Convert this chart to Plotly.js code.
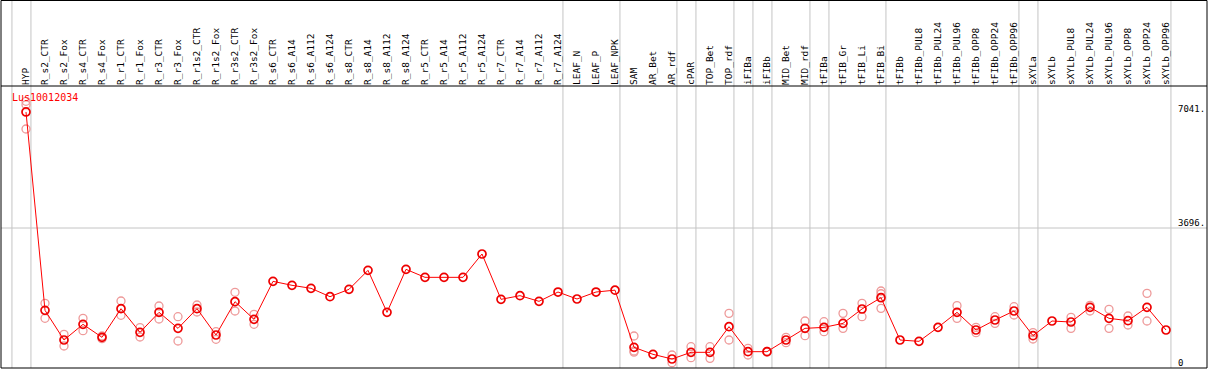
<!DOCTYPE html>
<html>
<head>
<meta charset="utf-8">
<script src="https://cdn.plot.ly/plotly-3.0.1.min.js"></script>
<style>html,body{margin:0;padding:0;background:#fff;}#chart{width:1209px;height:370px;}</style>
</head>
<body>
<div id="chart"></div>
<script>
var geneName = "Lus10012034";
var categories = ["HYP","R_s2_CTR","R_s2_Fox","R_s4_CTR","R_s4_Fox","R_r1_CTR","R_r1_Fox","R_r3_CTR","R_r3_Fox","R_r1s2_CTR","R_r1s2_Fox","R_r3s2_CTR","R_r3s2_Fox","R_s6_CTR","R_s6_A14","R_s6_A112","R_s6_A124","R_s8_CTR","R_s8_A14","R_s8_A112","R_s8_A124","R_r5_CTR","R_r5_A14","R_r5_A112","R_r5_A124","R_r7_CTR","R_r7_A14","R_r7_A112","R_r7_A124","LEAF_N","LEAF_P","LEAF_NPK","SAM","AR_Bet","AR_rdf","cPAR","TOP_Bet","TOP_rdf","iFIBa","iFIBb","MID_Bet","MID_rdf","tFIBa","tFIB_Gr","tFIB_Li","tFIB_Bi","tFIBb","tFIBb_PUL8","tFIBb_PUL24","tFIBb_PUL96","tFIBb_OPP8","tFIBb_OPP24","tFIBb_OPP96","sXYLa","sXYLb","sXYLb_PUL8","sXYLb_PUL24","sXYLb_PUL96","sXYLb_OPP8","sXYLb_OPP24","sXYLb_OPP96"];
var meanValues = [6760,1523,739,1153,810,1566,942,1470,1047,1566,871,1751,1285,2288,2183,2104,1883,2077,2579,1470,2605,2394,2394,2394,3010,1813,1910,1760,2006,1822,2006,2055,546,361,238,414,414,1091,431,431,739,1047,1073,1179,1558,1856,739,704,1073,1470,1003,1267,1505,854,1241,1214,1602,1311,1250,1602,1003];
var replicateValues = [[7041,6950,6310],[1708,1312],[889,581],[1312,985],[845,775],[1769,1391],[1065,818],[1637,1294],[1355,713],[1663,1478],[959,757],[1998,1505],[1417,1153],[],[],[],[],[],[],[],[],[],[],[],[],[],[],[],[],[],[],[],[845,449,420],[],[343,141],[563,273],[563,255],[1443,739],[519,343],[440,420],[810,669],[1241,854],[1223,959],[1443,1047],[1707,1355],[2033,1960,1575],[],[],[],[1646,1311],[1073,933],[1355,1179],[1619,1399],[933,766],[],[1338,1047],[1655,1505],[1549,1047],[1373,1135],[1971,1241],[]];
var groupEnds = ["_start","HYP","R_r7_A124","LEAF_NPK","AR_rdf","cPAR","TOP_rdf","iFIBa","iFIBb","MID_rdf","tFIBa","tFIB_Bi","tFIBb_OPP96","sXYLa","sXYLb_OPP96"];
var axisMax = 7041;
var axisMid = 3696.5;

var idx = categories.map(function(c,i){return i;});
var repX = [], repY = [];
replicateValues.forEach(function(arr,i){arr.forEach(function(v){repX.push(i);repY.push(v);});});

var xmin = -1.316, xmax = 62.158;
var plotTopPx = 86, plotBotPx = 368, figH = 370;
var plotH = plotBotPx - plotTopPx;
function pxToPaperY(p){return (plotBotPx - p)/plotH;}
var ymaxRange = axisMid * plotH / 140;

var shapes = [];
groupEnds.forEach(function(name){
  var i = name === "_start" ? -1 : categories.indexOf(name);
  var xp = (i + 0.26 - xmin)/(xmax - xmin);
  shapes.push({type:'line', xref:'paper', yref:'paper', x0:xp, x1:xp, y0:0, y1:pxToPaperY(0), line:{color:'#c4c4c4', width:1}, layer:'below'});
});
shapes.push({type:'line', xref:'paper', yref:'y', x0:0, x1:1, y0:axisMid, y1:axisMid, line:{color:'#c4c4c4', width:1}, layer:'below'});
shapes.push({type:'rect', xref:'paper', yref:'paper', x0:0, x1:1, y0:0, y1:pxToPaperY(0.5), line:{color:'#000', width:1}});
shapes.push({type:'line', xref:'paper', yref:'paper', x0:0, x1:1, y0:1, y1:1, line:{color:'#000', width:1}});

var mono = 'DejaVu Sans Mono, monospace';
var labX = (1176 - 1)/1206;
var annotations = [
  {text:geneName, xref:'paper', yref:'paper', x:(10-1)/1206, y:pxToPaperY(97), xanchor:'left', yanchor:'middle', showarrow:false, font:{family:mono, size:10, color:'#ff0000'}},
  {text:axisMax+'.', xref:'paper', yref:'y', x:labX, y:axisMax, xanchor:'left', yanchor:'top', yshift:-1, showarrow:false, font:{family:mono, size:9, color:'#000'}},
  {text:Math.floor(axisMid)+'.', xref:'paper', yref:'y', x:labX, y:axisMid, xanchor:'left', yanchor:'bottom', yshift:-2, showarrow:false, font:{family:mono, size:9, color:'#000'}},
  {text:'0', xref:'paper', yref:'y', x:labX, y:0, xanchor:'left', yanchor:'bottom', yshift:-2, showarrow:false, font:{family:mono, size:9, color:'#000'}}
];

var traces = [
  {x:repX, y:repY, type:'scatter', mode:'markers', marker:{symbol:'circle-open', size:8, color:'#ee9a9a', line:{width:1.3, color:'#ee9a9a'}}, hoverinfo:'skip'},
  {x:idx, y:meanValues, type:'scatter', mode:'lines+markers', line:{color:'#ff0000', width:1}, marker:{symbol:'circle-open', size:8, color:'#ee0000', line:{width:1.7, color:'#ee0000'}}}
];

var layout = {
  width:1209, height:370,
  margin:{l:1, r:2, t:plotTopPx, b:figH - plotBotPx, pad:0},
  paper_bgcolor:'#fff', plot_bgcolor:'#fff',
  showlegend:false,
  xaxis:{range:[xmin,xmax], tickmode:'array', tickvals:idx, ticktext:categories, side:'top', tickangle:-90,
         tickfont:{family:mono, size:9.5, color:'#000'}, showgrid:false, zeroline:false, showline:false, ticks:'', fixedrange:true},
  yaxis:{range:[0,ymaxRange], showticklabels:false, showgrid:false, zeroline:false, showline:false, ticks:'', fixedrange:true},
  shapes:shapes,
  annotations:annotations
};
Plotly.newPlot('chart', traces, layout, {displayModeBar:false, staticPlot:true});
</script>
</body>
</html>
